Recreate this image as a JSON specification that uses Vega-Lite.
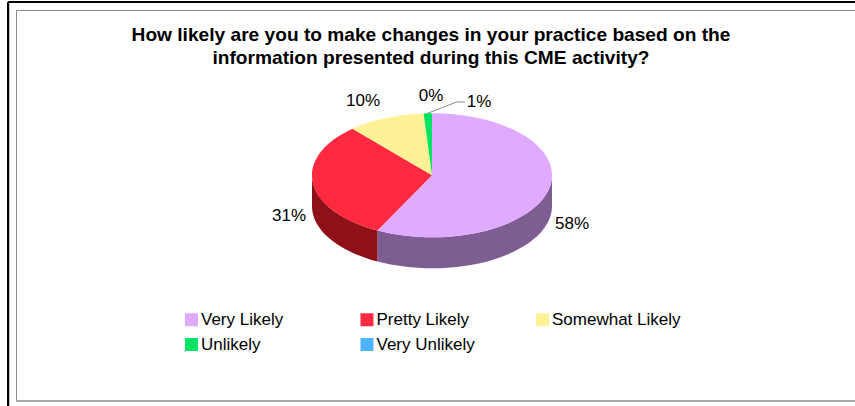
{
"$schema":"https://vega.github.io/schema/vega-lite/v6.json",
"width":855,"height":406,"padding":0,"autosize":{"type":"none"},"background":"white",
"config":{"view":{"stroke":null},"font":"Liberation Sans"},
"title":{"text":["How likely are you to make changes in your practice based on the","information presented during this CME activity?"],"font":"Liberation Sans","fontSize":19.15,"fontWeight":"bold","color":"#000000","anchor":"middle","frame":"group","baseline":"bottom","lineHeight":23,"offset":-87,"dx":3.5},
"data":{"values":[
{"response":"Very Likely","slice":"a","share":0.58},
{"response":"Pretty Likely","slice":"b","share":0.31},
{"response":"Somewhat Likely","slice":"c","share":0.10},
{"response":"Unlikely","slice":"d","share":0.01},
{"response":"Very Unlikely","slice":"e","share":0.0}
]},
"layer":[
{"mark":{"type":"rule","color":"#000000","strokeWidth":1.7},"encoding":{"x":{"datum":8.2,"type":"quantitative","scale":{"domain":[0,855]},"axis":null},"y":{"datum":2,"type":"quantitative","scale":{"domain":[0,406],"reverse":true},"axis":null},"y2":{"datum":406}}},
{"mark":{"type":"rule","color":"#000000","strokeWidth":1.7},"encoding":{"y":{"datum":2,"type":"quantitative","scale":{"domain":[0,406],"reverse":true},"axis":null},"x":{"datum":8.2,"type":"quantitative","scale":{"domain":[0,855]},"axis":null},"x2":{"datum":855}}},
{"mark":{"type":"rule","color":"#8c8c8c","strokeWidth":1},"encoding":{"x":{"datum":16.5,"type":"quantitative","scale":{"domain":[0,855]},"axis":null},"y":{"datum":10.5,"type":"quantitative","scale":{"domain":[0,406],"reverse":true},"axis":null},"y2":{"datum":400.5}}},
{"mark":{"type":"rule","color":"#8c8c8c","strokeWidth":1},"encoding":{"y":{"datum":10.5,"type":"quantitative","scale":{"domain":[0,406],"reverse":true},"axis":null},"x":{"datum":16.5,"type":"quantitative","scale":{"domain":[0,855]},"axis":null},"x2":{"datum":855}}},
{"mark":{"type":"rule","color":"#a8a8a8","strokeWidth":1.6},"encoding":{"y":{"datum":400.7,"type":"quantitative","scale":{"domain":[0,406],"reverse":true},"axis":null},"x":{"datum":16.5,"type":"quantitative","scale":{"domain":[0,855]},"axis":null},"x2":{"datum":855}}},
{"transform":[{"filter":"datum.response === 'Very Likely'"}],"mark":{"type":"point","filled":true,"opacity":1,"size":57600,"color":"#7e5e92","shape":"M1 0 A1 .5167 0 0 1 -.454 .4604 L-.454 .7187 A1 .5167 0 0 0 1 .2583 Z"},"encoding":{"x":{"datum":432,"type":"quantitative","scale":{"domain":[0,855]},"axis":null},"y":{"datum":175.3,"type":"quantitative","scale":{"domain":[0,406],"reverse":true},"axis":null}}},
{"transform":[{"filter":"datum.response === 'Pretty Likely'"}],"mark":{"type":"point","filled":true,"opacity":1,"size":57600,"color":"#8e111a","shape":"M-.454 .4604 A1 .5167 0 0 1 -1 0 L-1 .2583 A1 .5167 0 0 0 -.454 .7187 Z"},"encoding":{"x":{"datum":432,"type":"quantitative","scale":{"domain":[0,855]},"axis":null},"y":{"datum":175.3,"type":"quantitative","scale":{"domain":[0,406],"reverse":true},"axis":null}}},
{"mark":{"type":"point","filled":true,"opacity":1,"size":57600},"encoding":{
"x":{"datum":432,"type":"quantitative","scale":{"domain":[0,855]},"axis":null},
"y":{"datum":175.3,"type":"quantitative","scale":{"domain":[0,406],"reverse":true},"axis":null},
"shape":{"field":"slice","type":"nominal","legend":null,"scale":{"domain":["a","b","c","d","e"],"range":["M0 0 L0 -.5167 A1 .5167 0 1 1 -.454 .4604 Z","M0 0 L-.454 .4604 A1 .5167 0 0 1 -.6626 -.387 Z","M0 0 L-.6626 -.387 A1 .5167 0 0 1 -.0698 -.5154 Z","M0 0 L-.0698 -.5154 A1 .5167 0 0 1 0 -.5167 Z","M0 0 L0 0 Z"]}},
"color":{"field":"response","type":"nominal","scale":{"domain":["Very Likely","Pretty Likely","Somewhat Likely","Unlikely","Very Unlikely"],"range":["#dfaaff","#ff2a3f","#fff296","#00e364","#4db4ff"]},"legend":{"title":null,"orient":"none","legendX":183,"legendY":311,"direction":"horizontal","columns":3,"symbolType":"square","symbolSize":169,"symbolStrokeWidth":0,"symbolOpacity":1,"labelFont":"Liberation Sans","labelFontSize":17,"labelColor":"#000000","labelOffset":1,"labelLimit":200,"rowPadding":7,"columnPadding":28.5,"gridAlign":"all","padding":0}}
}},
{"transform":[{"filter":"datum.response === 'Unlikely'"}],"mark":{"type":"point","filled":false,"opacity":1,"size":57600,"stroke":"#888888","strokeWidth":1,"shape":"M-.044 -.514 L.206 -.611 L.275 -.611"},"encoding":{"x":{"datum":432,"type":"quantitative","scale":{"domain":[0,855]},"axis":null},"y":{"datum":175.3,"type":"quantitative","scale":{"domain":[0,406],"reverse":true},"axis":null}}},
{"transform":[{"filter":"datum.response === 'Very Likely'"}],"mark":{"type":"text","fontSize":17,"color":"#000000","font":"Liberation Sans"},"encoding":{"x":{"datum":572,"type":"quantitative","scale":{"domain":[0,855]},"axis":null},"y":{"datum":224,"type":"quantitative","scale":{"domain":[0,406],"reverse":true},"axis":null},"text":{"field":"share","type":"quantitative","format":".0%"}}},
{"transform":[{"filter":"datum.response === 'Pretty Likely'"}],"mark":{"type":"text","fontSize":17,"color":"#000000","font":"Liberation Sans"},"encoding":{"x":{"datum":289,"type":"quantitative","scale":{"domain":[0,855]},"axis":null},"y":{"datum":216,"type":"quantitative","scale":{"domain":[0,406],"reverse":true},"axis":null},"text":{"field":"share","type":"quantitative","format":".0%"}}},
{"transform":[{"filter":"datum.response === 'Somewhat Likely'"}],"mark":{"type":"text","fontSize":17,"color":"#000000","font":"Liberation Sans"},"encoding":{"x":{"datum":363,"type":"quantitative","scale":{"domain":[0,855]},"axis":null},"y":{"datum":101,"type":"quantitative","scale":{"domain":[0,406],"reverse":true},"axis":null},"text":{"field":"share","type":"quantitative","format":".0%"}}},
{"transform":[{"filter":"datum.response === 'Very Unlikely'"}],"mark":{"type":"text","fontSize":17,"color":"#000000","font":"Liberation Sans"},"encoding":{"x":{"datum":431,"type":"quantitative","scale":{"domain":[0,855]},"axis":null},"y":{"datum":96,"type":"quantitative","scale":{"domain":[0,406],"reverse":true},"axis":null},"text":{"field":"share","type":"quantitative","format":".0%"}}},
{"transform":[{"filter":"datum.response === 'Unlikely'"}],"mark":{"type":"text","fontSize":17,"color":"#000000","font":"Liberation Sans"},"encoding":{"x":{"datum":479,"type":"quantitative","scale":{"domain":[0,855]},"axis":null},"y":{"datum":102,"type":"quantitative","scale":{"domain":[0,406],"reverse":true},"axis":null},"text":{"field":"share","type":"quantitative","format":".0%"}}}
]
}
